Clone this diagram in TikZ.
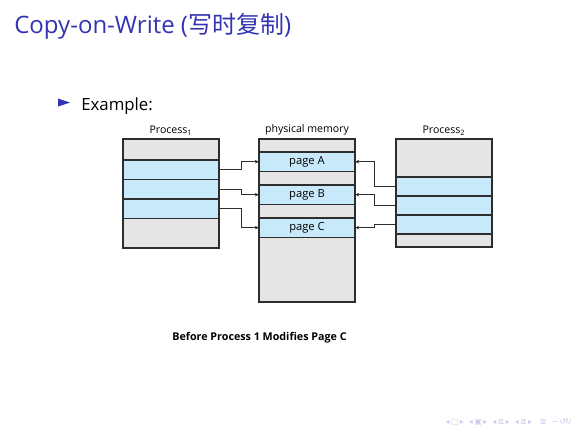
\documentclass[tikz,border=0pt]{standalone}
\usepackage{fontspec}
\setmainfont{Open Sans}
\newfontfamily\cjk{Noto Sans CJK SC}
\newfontfamily\symfont{DejaVu Sans}
\usepackage{xcolor}
\usepackage{tikz}
\usetikzlibrary{arrows.meta, positioning}

\definecolor{struct}{RGB}{51,51,179}
\definecolor{cellgray}{RGB}{229,229,229}
\definecolor{cellblue}{RGB}{200,233,249}
\definecolor{edgegray}{RGB}{45,45,45}

\begin{document}
\begin{tikzpicture}[
  x=0.625pt, y=-0.625pt,
  % ---- memory cell styles ----
  cell/.style={draw=edgegray, rectangle, line width=0.8pt,
    minimum width=60pt, inner sep=0pt, outer sep=0pt,
    font=\fontsize{7}{8}\selectfont},
  gcell/.style={cell, fill=cellgray},
  bcell/.style={cell, fill=cellblue},
  % ---- text and arrow styles ----
  lbl/.style={font=\fontsize{6.6}{8}\selectfont, inner sep=1pt},
  link/.style={-{Stealth[length=2.6pt, width=2.2pt]}, line width=0.45pt, edgegray},
]
\useasboundingbox[fill=white] (0,0) rectangle (580,435);

% ---- frame title and bullet ----
\node[anchor=base west, inner sep=0pt, text=struct, font=\fontsize{15}{17}\selectfont]
  (title) at (14,33) {Copy-on-Write ({\cjk 写时复制})};
\fill[struct] (58,98.5) -- (70,102.5) -- (58,106.5) -- cycle;
\node[anchor=base west, inner sep=0pt, font=\fontsize{10.5}{12}\selectfont]
  (example) at (81,110) {Example:};

% ---- Process 1 page table ----
\node[gcell, minimum height=13.1pt, anchor=north west] (p1top) at (123,139) {};
\node[bcell, minimum height=12.2pt, below=0pt of p1top] (p1r1) {};
\node[bcell, minimum height=12.2pt, below=0pt of p1r1]  (p1r2) {};
\node[bcell, minimum height=12.2pt, below=0pt of p1r2]  (p1r3) {};
\node[gcell, minimum height=18.4pt, below=0pt of p1r3]  (p1bot) {};
\node[lbl, above=1.2pt of p1top] (p1lbl) {Process\textsubscript{1}};

% ---- physical memory ----
\node[gcell, minimum height=8.1pt, anchor=north west] (mtop) at (259,139) {};
\node[bcell, minimum height=12.2pt, below=0pt of mtop] (pgA) {page A};
\node[gcell, minimum height=8.4pt, below=0pt of pgA]   (gap1) {};
\node[bcell, minimum height=12.2pt, below=0pt of gap1] (pgB) {page B};
\node[gcell, minimum height=8.4pt, below=0pt of pgB]   (gap2) {};
\node[bcell, minimum height=12.2pt, below=0pt of gap2] (pgC) {page C};
\node[gcell, minimum height=40.3pt, below=0pt of pgC]  (mbot) {};
\node[lbl, above=1.2pt of mtop] (mlbl) {physical memory};

% ---- Process 2 page table ----
\node[gcell, minimum height=23.75pt, anchor=north west] (p2top) at (396,139) {};
\node[bcell, minimum height=11.9pt, below=0pt of p2top] (p2r1) {};
\node[bcell, minimum height=11.9pt, below=0pt of p2r1]  (p2r2) {};
\node[bcell, minimum height=11.9pt, below=0pt of p2r2]  (p2r3) {};
\node[gcell, minimum height=8.1pt, below=0pt of p2r3]   (p2bot) {};
\node[lbl, above=1.2pt of p2top] (p2lbl) {Process\textsubscript{2}};

% ---- shared page mappings ----
\draw[link] (p1r1.east) -- ++(22,0) |- (pgA.west);
\draw[link] (p1r2.east) -- ++(22,0) |- (pgB.west);
\draw[link] (p1r3.east) -- ++(22,0) |- (pgC.west);
\draw[link] (p2r1.west) -- ++(-22,0) |- (pgA.east);
\draw[link] (p2r2.west) -- ++(-22,0) |- (pgB.east);
\draw[link] (p2r3.west) -- ++(-22,0) |- (pgC.east);

% ---- caption ----
\node[lbl, font=\fontsize{6.7}{8}\selectfont\bfseries] (caption) at (259.5,338)
  {Before Process 1 Modifies Page C};

% ---- navigation symbols ----
\node[anchor=east, inner sep=0pt, text=struct!25, font=\symfont\fontsize{5}{6}\selectfont]
  (nav) at (572,422) {◂\,□\,▸\ \ ◂\,▣\,▸\ \ ◂\,≣\,▸\ \ ◂\,≣\,▸\ \ \ ≣\ \ ∽\,↺\!↻};
\end{tikzpicture}
\end{document}
